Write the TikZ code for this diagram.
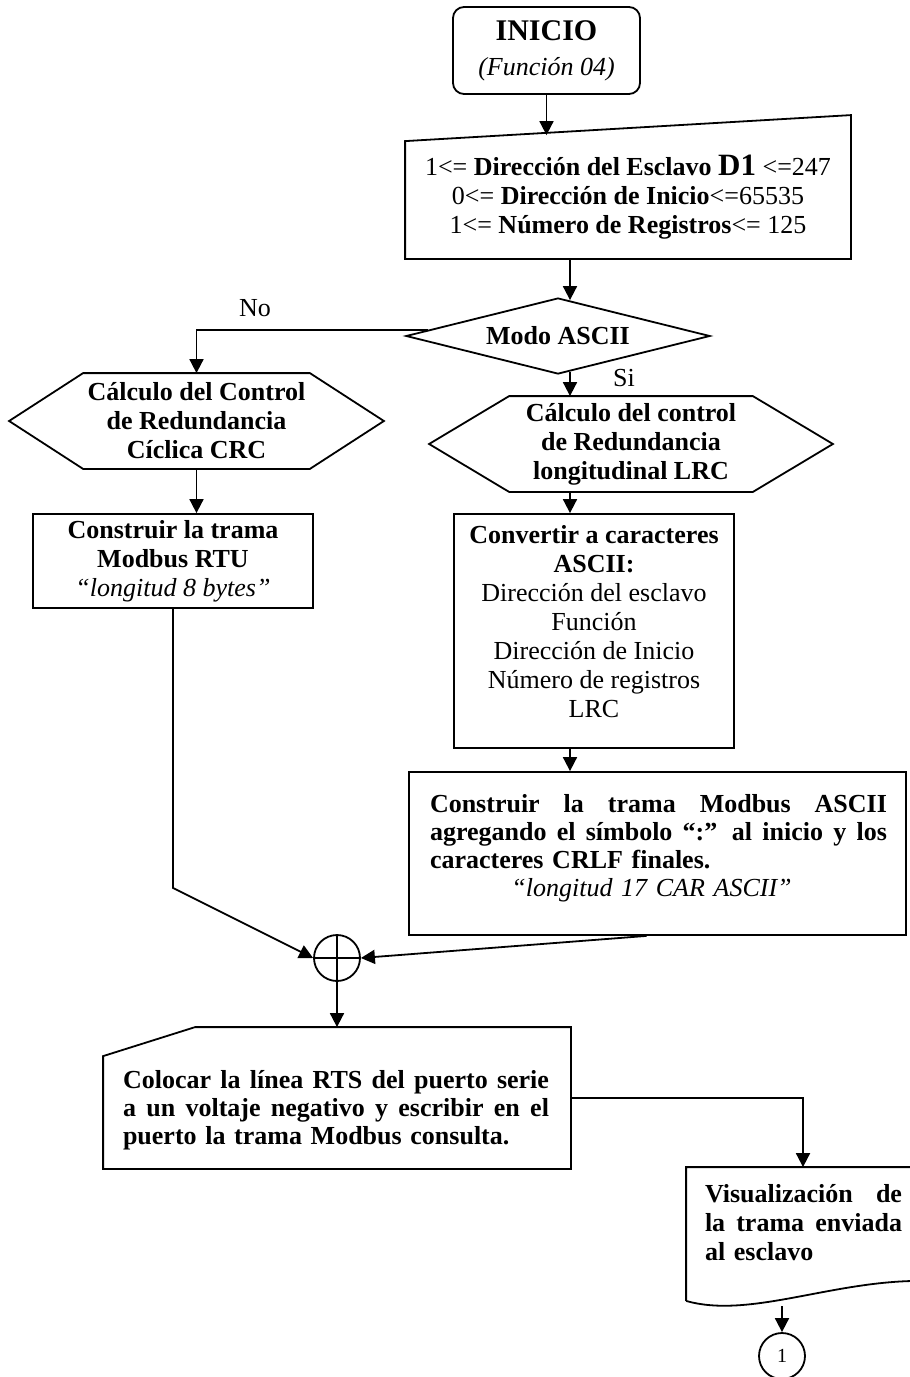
\documentclass[tikz,border=0pt]{standalone}
\usepackage{fontspec}
\setmainfont{Liberation Serif}
\usetikzlibrary{arrows.meta,shapes.geometric,calc}
\newcommand\fsz{\fontsize{26}{29}\selectfont}
\newcommand\fszt{\fontsize{26}{28}\selectfont}
% a line set to a fixed width, its word gaps marked with \hfill
\newcommand\spreadline[2]{\leavevmode\hbox to #1{#2}}
\tikzset{
  base/.style={font=\fsz, inner sep=0pt, align=center},
  bx/.style={base, draw, rectangle},
  hid/.style={base, rectangle},
  arr/.style={-{Triangle[length=14pt,width=14pt]}},
}
\begin{document}
\begin{tikzpicture}[x=1pt, y=-1pt, line width=1.8pt, line join=miter]
\useasboundingbox (0,0) rectangle (910,1377);
\clip (0,0) rectangle (910,1377);

% start terminal
\node[bx, rounded corners=11pt, minimum width=187pt, minimum height=87pt] (ini) at (546.5,50.5)
  {{\fontsize{30}{32}\selectfont\bfseries INICIO}\\[6pt]{\itshape (Función 04)}};

% manual input of the request parameters
\node[hid, minimum width=444pt, minimum height=122pt] (inp) at (628,197)
  {1<= \textbf{Dirección del Esclavo {\fontsize{31}{31}\selectfont D1}} <=247\\
   0<= \textbf{Dirección de Inicio}<=65535\\
   1<= \textbf{Número de Registros}<= 125};
\draw (inp.south west) -- (inp.south east) -- ([yshift=20pt]inp.north east)
      -- ([yshift=-6pt]inp.north west) -- cycle;

% decision
\node[diamond, draw, aspect=4, minimum width=304pt, minimum height=76pt, inner sep=0pt,
      font=\fsz\bfseries] (dia) at (558,336) {Modo ASCII};
\node[base] (lblNo) at (255,308) {No};
\node[base] (lblSi) at (624,378) {Si};

% CRC branch
\node[hid, font=\fsz\bfseries, minimum width=373pt, minimum height=94pt] (crc) at (196.5,421)
  {Cálculo del Control\\de Redundancia\\Cíclica CRC};
\draw (crc.west) -- ([xshift=74pt]crc.north west) -- ([xshift=-74pt]crc.north east)
      -- (crc.east) -- ([xshift=-74pt]crc.south east) -- ([xshift=74pt]crc.south west) -- cycle;

\node[bx, minimum width=280pt, minimum height=94pt] (rtu) at (173,561)
  {\textbf{Construir la trama}\\\textbf{Modbus RTU}\\\textit{“longitud 8 bytes”}};

% LRC branch
\node[hid, font=\fsz\bfseries, minimum width=402pt, minimum height=94pt] (lrc) at (631,444)
  {Cálculo del control\\de Redundancia\\longitudinal LRC};
\draw (lrc.west) -- ([xshift=80pt]lrc.north west) -- ([xshift=-80pt]lrc.north east)
      -- (lrc.east) -- ([xshift=-80pt]lrc.south east) -- ([xshift=80pt]lrc.south west) -- cycle;

\node[bx, minimum width=280pt, minimum height=234pt] (asc) at (594,631) {};
\node[base] (ascT) at (594,621.5)
  {\textbf{Convertir a caracteres}\\\textbf{ASCII:}\\Dirección del esclavo\\Función\\
   Dirección de Inicio\\Número de registros\\LRC};

\node[bx, minimum width=497pt, minimum height=163pt] (mod) at (657.5,853.5) {};
\node[base, text width=457pt, align=left, font=\fszt\bfseries] (modT) at (658.5,848.5)
  {\spreadline{457pt}{Construir \hfill la \hfill trama \hfill Modbus \hfill ASCII}\\
   \spreadline{457pt}{agregando \hfill el \hfill símbolo \hfill “:” \hfill al \hfill inicio \hfill y \hfill los}\\
   caracteres CRLF finales.\\
   \makebox[443pt][c]{\mdseries\itshape “longitud 17 CAR ASCII”}};

% junction
\node[circle, draw, minimum size=46pt, inner sep=0pt,
      path picture={\draw[line width=1.8pt]
        (path picture bounding box.north) -- (path picture bounding box.south)
        (path picture bounding box.west) -- (path picture bounding box.east);}] (sum) at (337,958) {};

% send the request
\node[hid, minimum width=466pt, minimum height=140pt] (rts) at (337,1098) {};
\draw ([xshift=92pt]rts.north west) -- (rts.north east) -- (rts.south east)
      -- (rts.south west) -- ([yshift=-29pt]rts.north west) -- cycle;
\node[base, text width=426pt, align=left, font=\fszt\bfseries] (rtsT) at (336,1110)
  {\spreadline{426pt}{Colocar \hfill la \hfill línea \hfill RTS \hfill del \hfill puerto \hfill serie}\\
   \spreadline{426pt}{a \hfill un \hfill voltaje \hfill negativo \hfill y \hfill escribir \hfill en \hfill el}\\
   puerto la trama Modbus consulta.};

% display document
\node[hid, minimum width=232pt, minimum height=132pt] (vis) at (803,1234) {};
\draw (vis.south west) -- (vis.north west) -- (vis.north east) -- ([yshift=20pt]vis.south east)
      .. controls ([xshift=-89pt,yshift=20pt]vis.south east) and ([xshift=63pt,yshift=-18pt]vis.south west)
      .. (vis.south west);
\node[base, text width=197pt, align=left, font=\fsz\bfseries] (visT) at (803.5,1223)
  {\spreadline{197pt}{Visualización \hfill de}\\\spreadline{197pt}{la \hfill trama \hfill enviada}\\al esclavo};

% off-page connector
\node[circle, draw, minimum size=46pt, inner sep=0pt, font=\fontsize{20}{22}\selectfont] (con) at (782,1356) {1};

% connectors
\coordinate (axis) at (570,0);
\coordinate (noStart) at ($(dia.west)!0.15!(dia.north)$);
\path (rtu.south) ++(0,279) coordinate (bend);
\path (con.north) ++(0,-26) coordinate (visOut);

\draw[arr] (ini.south) -- (ini.south |- inp.north);
\draw[arr, shorten >=-3pt] (inp.south -| axis) -- (axis |- dia.north);
\draw[arr] (noStart) -| (crc.north);
\draw[arr, shorten <=-3pt] (axis |- dia.south) -- (axis |- lrc.north);
\draw[arr] (crc.south) -- (crc.south |- rtu.north);
\draw[arr] (axis |- lrc.south) -- (axis |- asc.north);
\draw[arr] (axis |- asc.south) -- (axis |- mod.north);
\draw[arr] (rtu.south) -- (bend) -- (sum.west);
\draw[arr] ([xshift=-11pt]mod.south) -- (sum.east);
\draw[arr] (sum.south) -- (rts.north);
\draw[arr] (rts.east) -| (vis.north);
\draw[arr] (visOut) -- (con.north);
\end{tikzpicture}
\end{document}
